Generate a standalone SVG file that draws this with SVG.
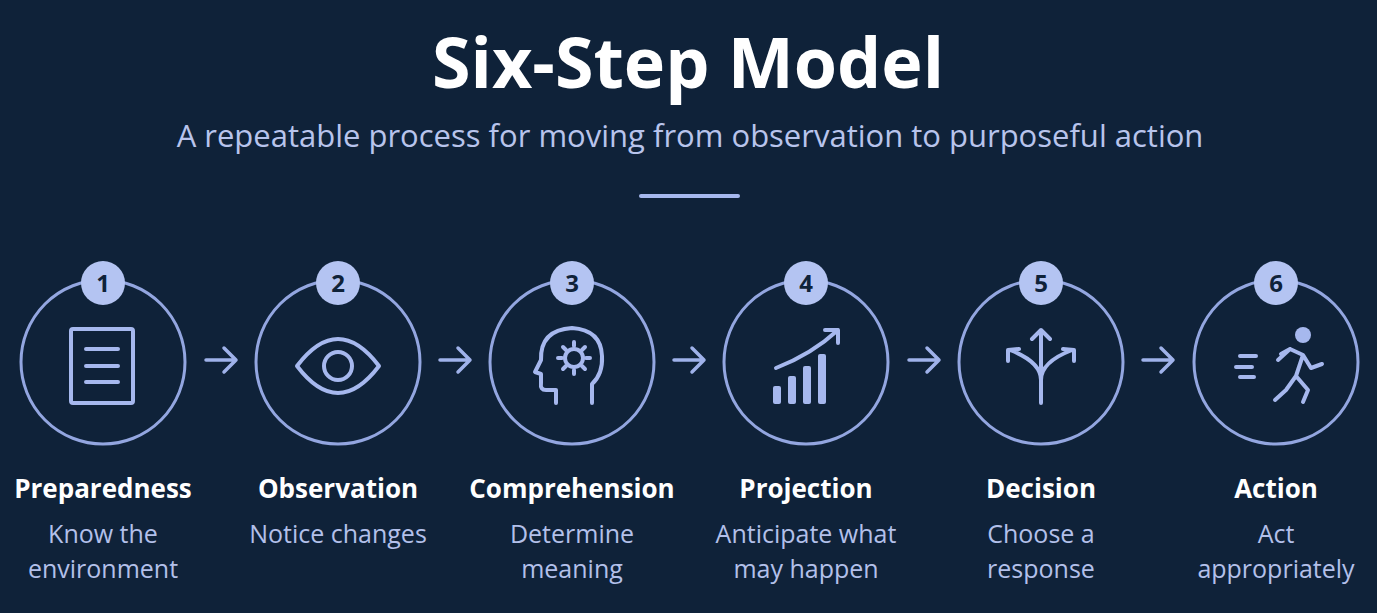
<svg xmlns="http://www.w3.org/2000/svg" width="1377" height="613" viewBox="0 0 1377 613">
<defs>
<style>
.ring{fill:none;stroke:#93a6e0;stroke-width:3}
.badge{fill:#b4c4f2}
.num{font:bold 24px "Open Sans","Liberation Sans",sans-serif;fill:#0f2239;text-anchor:middle}
.ic{fill:none;stroke:#a6b8ee;stroke-width:4;stroke-linecap:round;stroke-linejoin:round}
.icf{fill:#a6b8ee}
.lbl{font:bold 26px "Open Sans","Liberation Sans",sans-serif;fill:#ffffff;text-anchor:middle}
.desc{font:25px "Open Sans","Liberation Sans",sans-serif;fill:#b3c0ea;text-anchor:middle}
.con{fill:none;stroke:#9fb2ea;stroke-width:3.5;stroke-linecap:round;stroke-linejoin:round}
</style>
</defs>
<rect width="1377" height="613" fill="#0f2239"/>
<text x="688" y="88" font-family="Open Sans, Liberation Sans, sans-serif" font-weight="bold" font-size="70" fill="#ffffff" text-anchor="middle">Six-Step Model</text>
<text x="690" y="147" font-family="Open Sans, Liberation Sans, sans-serif" font-size="31" fill="#b8c4ec" text-anchor="middle">A repeatable process for moving from observation to purposeful action</text>
<line x1="641" y1="196" x2="738" y2="196" stroke="#a6b8ee" stroke-width="4" stroke-linecap="round"/>
<g id="connectors">
<path class="con" d="M206 360H236M224 348L236 360L224 372"/>
<path class="con" d="M440 360H470M458 348L470 360L458 372"/>
<path class="con" d="M674 360H704M692 348L704 360L692 372"/>
<path class="con" d="M909 360H939M927 348L939 360L927 372"/>
<path class="con" d="M1143 360H1173M1161 348L1173 360L1161 372"/>
</g>
<g id="n1">
<circle class="ring" cx="103" cy="362" r="82"/>
<circle class="badge" cx="103" cy="283" r="22"/><text class="num" x="103" y="292">1</text>
<rect class="ic" x="71" y="329" width="62" height="74" rx="2"/>
<path class="ic" d="M86 349H118M86 366H118M86 382H118"/>
<text class="lbl" x="103" y="498">Preparedness</text>
<text class="desc" x="103" y="543">Know the</text><text class="desc" x="103" y="578">environment</text>
</g>
<g id="n2">
<circle class="ring" cx="338" cy="362" r="82"/>
<circle class="badge" cx="338" cy="283" r="22"/><text class="num" x="338" y="292">2</text>
<path class="ic" d="M297 366Q338 312 379 366Q338 420 297 366Z"/>
<circle class="ic" cx="338" cy="366" r="14"/>
<text class="lbl" x="338" y="498">Observation</text>
<text class="desc" x="338" y="543">Notice changes</text>
</g>
<g id="n3">
<circle class="ring" cx="572" cy="362" r="82"/>
<circle class="badge" cx="572" cy="283" r="22"/><text class="num" x="572" y="292">3</text>
<path class="ic" d="M556 403V390H546Q540 390 541 383V374L535 372L541 360Q540 330 572 328Q601 330 602 356Q603 374 592 384V403"/>
<circle class="ic" cx="574" cy="358" r="9"/>
<path class="ic" d="M574 342V346M574 370V374M558 358H562M586 358H590M563 347L566 350M582 366L585 369M585 347L582 350M566 366L563 369" stroke-width="5"/>
<text class="lbl" x="572" y="498">Comprehension</text>
<text class="desc" x="572" y="543">Determine</text><text class="desc" x="572" y="578">meaning</text>
</g>
<g id="n4">
<circle class="ring" cx="806" cy="362" r="82"/>
<circle class="badge" cx="806" cy="283" r="22"/><text class="num" x="806" y="292">4</text>
<path class="ic" d="M776 368Q812 354 838 330M825 330H838V343"/>
<rect class="icf" x="773" y="386" width="8" height="18" rx="2"/>
<rect class="icf" x="788" y="376" width="8" height="28" rx="2"/>
<rect class="icf" x="803" y="366" width="8" height="38" rx="2"/>
<rect class="icf" x="818" y="354" width="8" height="50" rx="2"/>
<text class="lbl" x="806" y="498">Projection</text>
<text class="desc" x="806" y="543">Anticipate what</text><text class="desc" x="806" y="578">may happen</text>
</g>
<g id="n5">
<circle class="ring" cx="1041" cy="362" r="82"/>
<circle class="badge" cx="1041" cy="283" r="22"/><text class="num" x="1041" y="292">5</text>
<path class="ic" d="M1041 403V330M1032 339L1041 330L1050 339M1041 380Q1041 362 1010 350M1008 361L1008 350L1019 349M1041 380Q1041 362 1072 350M1063 349L1074 350L1074 361"/>
<text class="lbl" x="1041" y="498">Decision</text>
<text class="desc" x="1041" y="543">Choose a</text><text class="desc" x="1041" y="578">response</text>
</g>
<g id="n6">
<circle class="ring" cx="1276" cy="362" r="82"/>
<circle class="badge" cx="1276" cy="283" r="22"/><text class="num" x="1276" y="292">6</text>
<circle class="icf" cx="1303" cy="335" r="8"/>
<path class="ic" d="M1278 360L1290 349L1303 355L1296 376L1308 390L1303 402M1303 355L1311 368L1322 364M1296 376L1286 390L1275 400M1290 349L1281 354" stroke-width="8"/>
<path class="ic" d="M1240 356H1256M1236 367H1252M1240 377H1254" stroke-width="5"/>
<text class="lbl" x="1276" y="498">Action</text>
<text class="desc" x="1276" y="543">Act</text><text class="desc" x="1276" y="578">appropriately</text>
</g>
</svg>
